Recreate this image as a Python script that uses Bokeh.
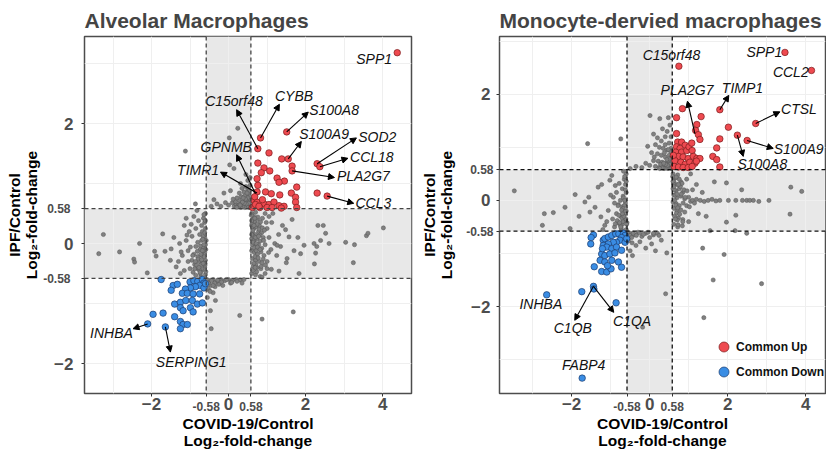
import math
from bokeh.plotting import figure
from bokeh.layouts import row
from bokeh.models import (BoxAnnotation, Span, Arrow, NormalHead, FixedTicker, LinearAxis,
                          Legend, LegendItem, ColumnDataSource, Range1d)
from bokeh.core.properties import value
from bokeh.embed import file_html
from bokeh.resources import INLINE

FONT = "Liberation Sans"

# ---------------- Alveolar macrophages (left) ----------------
am_up_x = [4.38, 0.83, 1.51, 0.76, 1.05, 1.38, 1.55, 0.76, 1.65, 2.30, 2.37, 0.92, 1.65, 0.85, 1.07,
           1.26, 1.45, 1.77, 2.30, 2.56, 0.76, 0.74, 1.31, 0.74, 0.96, 1.11, 1.33, 1.63, 1.74, 0.66,
           0.74, 0.92, 1.05, 1.18, 1.31, 1.44, 1.74, 1.77, 0.62, 0.81, 1.00, 0.68, 0.88, 0.70, 1.37,
           1.13, 0.79]
am_up_y = [3.18, 1.76, 1.86, 1.58, 1.51, 1.41, 1.41, 1.34, 1.29, 1.33, 1.28, 1.26, 1.21, 1.18, 1.21,
           1.09, 1.04, 0.94, 0.84, 0.79, 0.97, 1.08, 1.02, 0.86, 0.86, 0.83, 0.81, 0.84, 0.77, 0.72,
           0.69, 0.66, 0.65, 0.69, 0.63, 0.62, 0.69, 0.60, 0.60, 0.60, 0.60, 0.78, 0.73, 0.65, 0.59,
           0.60, 0.62]

am_down_x = [-1.75, -1.44, -1.33, -1.00, -0.90, -0.80, -0.68, -0.64, -0.75, -0.86, -0.99, -1.12, -1.49,
             -1.20, -1.07, -0.92, -0.75, -1.40, -1.25, -1.11, -0.94, -0.81, -0.68, -1.25, -1.18, -0.99,
             -0.92, -1.70, -1.96, -1.40, -1.25, -1.18, -1.07, -2.10, -1.64, -1.25, -0.64, -0.60]
am_down_y = [-0.60, -0.70, -0.68, -0.64, -0.62, -0.63, -0.60, -0.66, -0.70, -0.72, -0.74, -0.76, -0.78,
             -0.83, -0.83, -0.84, -0.84, -1.01, -0.98, -0.95, -0.95, -1.01, -0.99, -1.07, -1.12, -1.07,
             -1.14, -1.16, -1.18, -1.22, -1.30, -1.35, -1.35, -1.34, -1.39, -1.42, -0.74, -0.67]

am_other_x = [0.05, 0.31, 0.50, 0.24, 0.02, 0.03, -0.12, -0.38, 0.14, 0.15, 0.20, 0.25, 0.30, 0.35, 0.40,
              0.45, 0.50, 0.55, 0.10, 0.18, 0.28, 0.38, 0.48, 0.55, 0.33, 0.43, 0.52, 0.22, 0.12, 0.40,
              0.50, 0.35, 0.45, 0.56, 0.28, 0.00, -0.08, -0.20, -0.30, -0.45, 0.56, 0.45, -1.12, -0.86,
              -0.60, -0.65, -0.62, -0.70, -0.60, -0.68, -0.75, -0.62, -0.70, -0.80, -0.60, -0.66, -0.74,
              -0.85, -0.62, -0.70, -0.80, -0.90, -0.60, -0.67, -0.76, -0.88, -0.95, -1.05, -0.62, -0.70,
              -0.80, -0.92, -1.00, -1.15, -0.60, -0.72, -0.85, -1.25, -0.78, -0.85, -0.95, -0.90, -0.82,
              -1.02, -1.10, -1.05, -1.20, -0.97, -0.64, -0.73, -0.58, -0.59, -0.61, -0.66,
              -3.25, -3.37, -2.83, -2.46, -2.44, -2.31, -2.11, -1.92, -1.88, -1.71, -1.65, -1.49, -1.42,
              -1.51, -1.36, -1.27, -1.23, -1.15, -1.10, -1.30,
              0.60, 0.65, 0.70, 0.62, 0.68, 0.75, 0.60, 0.66, 0.72, 0.80, 0.62, 0.70, 0.78, 0.86, 0.60,
              0.66, 0.74, 0.82, 0.90, 0.62, 0.70, 0.78, 0.86, 0.95, 0.60, 0.67, 0.75, 0.84, 0.92, 0.62,
              0.70, 0.80, 0.90, 1.00, 0.64, 0.74, 0.84, 0.96, 0.60, 0.70, 0.82, 0.95, 1.00, 1.05, 1.10,
              1.12, 1.20, 1.25, 1.30, 1.35, 1.40, 0.88, 0.95, 1.05, 1.15, 1.00, 1.11, 1.31, 0.87, 1.50,
              1.52, 1.48, 1.57, 1.26, 1.70,
              1.96, 1.87, 1.83, 2.22, 2.26, 2.23, 2.39, 2.46, 2.52, 2.61, 3.04, 3.27, 3.58, 3.62, 4.02,
              3.24, 2.32, 2.29, 1.65, 1.80,
              -0.50, -0.40, -0.30, -0.20, -0.10, 0.00, 0.10, 0.20, 0.30, 0.40, -0.45, -0.35, -0.25, -0.50,
              -0.40, -0.55, -0.34, -0.47, -0.45, 0.29, 0.87, 1.68, -0.15, 0.05]
am_other_y = [0.88, 1.00, 1.05, 1.92, 1.76, 1.31, 0.84, 0.73, 1.25, 0.62, 0.65, 0.63, 0.66, 0.62, 0.64,
              0.61, 0.63, 0.65, 0.68, 0.70, 0.72, 0.70, 0.72, 0.74, 0.78, 0.80, 0.82, 0.76, 0.74, 0.86,
              0.90, 0.92, 0.95, 0.97, 0.84, 0.64, 0.68, 0.62, 0.66, 0.62, 1.10, 1.15, 1.54, 0.66,
              0.50, 0.42, 0.35, 0.30, 0.25, 0.20, 0.15, 0.10, 0.05, 0.02, -0.02, -0.08, -0.10,
              -0.05, -0.15, -0.20, -0.22, -0.18, -0.28, -0.32, -0.30, -0.35, -0.28, -0.30, -0.40, -0.45,
              -0.42, -0.48, -0.42, -0.45, -0.52, -0.55, -0.53, -0.50, 0.38, 0.25, 0.12, 0.45, 0.55,
              0.20, 0.05, -0.12, -0.20, 0.32, 0.48, -0.04, 0.05, -0.10, -0.36, 0.12,
              0.15, -0.17, -0.14, -0.26, -0.31, 0.00, -0.49, -0.13, -0.21, 0.16, -0.13, -0.09, 0.10,
              -0.28, -0.39, 0.00, -0.14, 0.30, 0.42, -0.30,
              0.50, 0.45, 0.52, 0.40, 0.35, 0.40, 0.30, 0.25, 0.28, 0.30, 0.18, 0.15, 0.20, 0.18, 0.08,
              0.05, 0.08, 0.04, 0.10, -0.02, -0.05, -0.02, -0.08, -0.02, -0.12, -0.15, -0.18, -0.14, -0.20,
              -0.25, -0.28, -0.30, -0.26, -0.30, -0.38, -0.40, -0.42, -0.36, -0.50, -0.52, -0.55, -0.50,
              0.25, 0.10, -0.10, 0.35, 0.00, -0.20, 0.15, -0.05, 0.30, 0.42, 0.50, 0.45, 0.50, -0.42,
              -0.43, -0.46, -0.56, -0.32, -0.25, 0.23, 0.11, -0.03, -0.12,
              -0.03, -0.17, -0.50, 0.00, -0.16, -0.34, 0.05, 0.30, 0.17, 0.00, 0.02, -0.02, 0.13, 0.17, 0.26,
              -0.32, 0.30, -0.05, 0.40, 0.10,
              -0.62, -0.60, -0.64, -0.60, -0.62, -0.60, -0.62, -0.60, -0.61, -0.60, -0.70, -0.72, -0.68,
              -0.78, -0.82, -0.90, -0.95, -1.12, -1.42, -1.20, -1.26, -1.14, -0.70, -0.66]
# extra unchanged genes in the densest areas
am_dense_x = [0.59, 0.61, 0.63, 0.65, 0.67, 0.69, 0.71, 0.73, 0.76, 0.79, 0.83, 0.88, 0.60, 0.62,
              0.64, 0.66, 0.68, 0.70, 0.72, 0.74, 0.77, 0.81, 0.85, 0.91, 0.60, 0.63, 0.66, 0.69,
              0.72, 0.75, 0.78, 0.82, 0.87, 0.93, 0.98, 1.04,
              -0.59, -0.61, -0.63, -0.65, -0.67, -0.69, -0.71, -0.73, -0.76, -0.79, -0.83, -0.88,
              -0.60, -0.62, -0.64, -0.66, -0.68, -0.70, -0.72, -0.74, -0.77, -0.81, -0.86, -0.93,
              -0.99, -1.08,
              0.57, 0.53, 0.47, 0.42, 0.37, 0.32, 0.26, 0.21, 0.57, 0.52, 0.46, 0.41, 0.36, 0.30,
              0.56, 0.50, 0.44, 0.38, 0.54, 0.48,
              -0.56, -0.52, -0.44, -0.36, -0.28, -0.18, -0.05, 0.08, 0.22, 0.35, -0.54, -0.48, -0.40]
am_dense_y = [0.47, 0.33, 0.22, 0.12, -0.07, -0.22, -0.35, -0.47, 0.44, 0.24, 0.36, 0.26, 0.38, 0.28,
              0.02, -0.33, 0.42, 0.10, -0.12, 0.32, -0.24, 0.14, -0.38, 0.05, 0.15, -0.45, 0.30, -0.40,
              0.00, -0.06, 0.12, -0.10, -0.32, 0.22, 0.35, -0.15,
              -0.47, -0.33, -0.22, -0.12, 0.07, -0.42, -0.35, -0.50, -0.44, -0.26, -0.36, -0.42,
              0.38, 0.18, -0.02, -0.33, -0.12, -0.27, -0.18, -0.48, -0.40, -0.13, -0.30, -0.20,
              -0.06, 0.14,
              0.60, 0.60, 0.61, 0.60, 0.61, 0.60, 0.61, 0.60, 0.68, 0.67, 0.66, 0.67, 0.69, 0.64,
              0.78, 0.76, 0.74, 0.76, 0.88, 0.84,
              -0.60, -0.66, -0.62, -0.66, -0.61, -0.64, -0.60, -0.65, -0.63, -0.66, -0.74, -0.80, -0.70]

am_gene = ["SPP1", "C15orf48", "CYBB", "S100A8", "S100A9", "SOD2", "CCL18", "PLA2G7", "CCL3",
           "GPNMB", "TIMR1", "INHBA", "SERPING1"]
am_gene_x = [3.78, 0.14, 1.70, 2.74, 2.48, 3.86, 3.72, 3.50, 3.76, -0.06, -0.79, -3.04, -0.97]
am_gene_y = [3.07, 2.38, 2.46, 2.23, 1.83, 1.77, 1.44, 1.12, 0.67, 1.61, 1.22, -1.49, -1.97]

am_arrow_x0 = [0.76, 0.83, 1.51, 1.55, 2.30, 2.37, 1.65, 2.56, 0.70, 0.74, -2.10, -1.64]
am_arrow_y0 = [1.58, 1.76, 1.86, 1.41, 1.33, 1.28, 1.21, 0.79, 0.83, 0.84, -1.34, -1.39]
am_arrow_x1 = [0.21, 1.32, 2.07, 1.89, 3.32, 3.10, 2.75, 3.25, 0.21, -0.21, -2.48, -1.51]
am_arrow_y1 = [2.23, 2.32, 2.19, 1.70, 1.76, 1.42, 1.10, 0.67, 1.48, 1.19, -1.42, -1.81]

# ---------------- Monocyte-derived macrophages (right) ----------------
md_up_x = [3.47, 4.15, 0.75, 1.80, 2.72, 2.02, 2.25, 2.50, 0.84, 1.32, 0.69, 1.21, 0.69, 1.18, 1.25,
           1.29, 1.80, 1.72, 1.62, 1.72, 1.80, 0.72, 0.82, 0.91, 0.69, 0.78, 0.67, 0.82, 0.95, 1.01,
           1.09, 0.74, 0.86, 0.99, 1.12, 1.21, 1.29, 0.65, 0.80, 0.91, 1.03, 1.16, 0.63, 0.74, 0.86,
           0.99, 1.09, 0.61, 1.08, 1.20]
md_up_y = [2.79, 2.45, 2.53, 1.71, 1.45, 1.38, 1.23, 1.13, 1.73, 1.58, 1.56, 1.43, 1.26, 1.32, 1.24,
           1.15, 1.16, 0.99, 0.83, 0.77, 0.63, 1.10, 1.10, 1.04, 1.01, 0.98, 0.91, 0.91, 0.94, 1.01,
           0.94, 0.83, 0.82, 0.79, 0.83, 0.79, 0.79, 0.75, 0.72, 0.68, 0.72, 0.70, 0.64, 0.63, 0.62,
           0.62, 0.64, 0.85, 1.08, 0.74]

md_down_x = [-2.64, -1.74, -1.44, -1.43, -0.86, -1.73, -1.44, -1.50, -1.51, -1.19, -1.15, -1.06, -0.97,
             -0.87, -0.79, -0.67, -0.63, -0.72, -0.76, -0.85, -0.93, -1.06, -1.19, -1.10, -0.97, -0.85,
             -0.72, -1.23, -1.15, -1.02, -0.89, -1.27, -1.15, -0.97, -0.80, -1.42, -1.23, -1.10, -0.99,
             -0.72, -1.08, -0.63, -0.59, -1.21]
md_down_y = [-1.78, -1.72, -1.62, -1.67, -1.93, -3.35, -0.65, -0.70, -0.82, -0.75, -0.72, -0.69, -0.66,
             -0.63, -0.63, -0.62, -0.66, -0.70, -0.75, -0.79, -0.79, -0.82, -0.85, -0.88, -0.91, -0.88,
             -0.94, -1.01, -1.04, -1.01, -0.99, -1.13, -1.16, -1.13, -1.16, -1.25, -1.34, -1.35, -1.29,
             -1.26, -1.23, -0.79, -0.72, -0.91]

md_other_x = [0.01, 0.26, 0.48, 0.52, -0.74, -1.59, 0.10, 0.20, 0.30, 0.40, 0.50, 0.15, 0.25, 0.35,
              0.45, 0.55, 0.05, 0.20, 0.30, 0.40, 0.50, 0.56, 0.10, 0.22, 0.32, 0.42, 0.52, 0.00, 0.15,
              0.25, 0.35, 0.45, 0.55, -0.10, -0.20, -0.35, -0.50, 0.38, 0.48, 0.28, 0.12, 0.55, 0.45,
              -0.05, 0.33,
              -3.47, -2.70, -2.47, -2.75, -2.17, -1.91, -1.81, -2.04, -1.66, -1.56, -1.53, -1.40, -1.32,
              -1.23, -1.25, -1.15, -1.06, -1.02, -0.97, -0.93,
              -0.60, -0.65, -0.62, -0.70, -0.60, -0.68, -0.75, -0.62, -0.70, -0.80, -0.60, -0.66, -0.74,
              -0.85, -0.62, -0.70, -0.80, -0.90, -0.60, -0.72, -0.85, -0.90, -0.78, -0.88, -0.95, -1.00,
              -0.64, -0.58, -1.10, -1.20, -0.67,
              0.60, 0.65, 0.72, 0.62, 0.70, 0.80, 0.60, 0.68, 0.76, 0.85, 0.62, 0.70, 0.80, 0.90, 1.00,
              0.60, 0.68, 0.76, 0.86, 0.95, 1.05, 0.62, 0.70, 0.80, 0.90, 0.64, 0.74, 0.85, 0.62, 0.72,
              0.84, 1.00, 1.10, 1.15, 1.20, 1.30, 1.40, 1.50, 1.60, 1.70, 1.80, 1.10, 1.20, 1.25, 1.35,
              1.45, 0.95, 1.05, 1.66, 1.97,
              2.02, 2.21, 2.38, 2.49, 2.57, 2.66, 2.80, 3.06,
              2.36, 3.62, 3.90, 2.21, 3.60, 1.97, 2.49, 2.19, 1.55, 1.36, 1.91, 1.63, 2.87, 1.39,
              0.41, -0.18, 0.44, -0.44, -0.50, -0.40, -0.30, -0.20, -0.10, 0.00, 0.10, 0.20, 0.30, -0.45,
              -0.35, -0.25, -0.55, 0.05, -0.10, 0.15, -0.50]
md_other_y = [1.60, 1.54, 1.56, 1.42, 1.16, 1.07, 1.25, 1.18, 1.12, 1.20, 1.08, 1.05, 1.00, 0.98,
              0.95, 0.98, 0.90, 0.88, 0.85, 0.82, 0.85, 0.80, 0.75, 0.74, 0.72, 0.70, 0.72, 0.66, 0.64,
              0.62, 0.64, 0.62, 0.64, 0.70, 0.62, 0.64, 0.60, 0.90, 0.75, 0.68, 0.82, 1.20, 1.30,
              1.02, 1.35,
              0.18, -0.25, -0.23, -0.47, -0.13, 0.11, -0.30, -0.53, -0.03, 0.06, -0.22, -0.13, 0.25,
              0.30, -0.31, -0.47, -0.19, 0.38, 0.47, 0.06,
              0.50, 0.40, 0.30, 0.22, 0.15, 0.08, 0.00, -0.05, -0.12, -0.08, -0.20, -0.28, -0.30,
              -0.25, -0.38, -0.45, -0.42, -0.50, -0.55, -0.56, 0.15, -0.05, 0.32, 0.28, -0.35, 0.10,
              0.45, -0.42, -0.40, -0.55, 0.55,
              0.50, 0.42, 0.48, 0.35, 0.30, 0.35, 0.22, 0.18, 0.22, 0.15, 0.10, 0.05, 0.08, 0.03, 0.06,
              -0.03, -0.06, -0.10, -0.05, -0.10, -0.02, -0.15, -0.20, -0.18, -0.22, -0.30, -0.33, -0.36,
              -0.45, -0.50, -0.48, -0.40, 0.00, -0.05, 0.02, 0.00, -0.02, 0.00, 0.02, -0.01, 0.00, 0.20,
              0.30, -0.25, 0.15, -0.30, 0.40, 0.50, 0.35, 0.33,
              0.00, 0.00, 0.00, 0.00, 0.00, 0.00, -0.02, 0.00,
              0.20, 0.25, 0.17, -0.28, -0.26, -0.41, -0.62, -0.57, -0.57, -0.90, -1.02, -1.50, -1.57, -2.21,
              -1.76, -2.39, -0.99, -1.04, -0.62, -0.65, -0.60, -0.68, -0.62, -0.70, -0.65, -0.62, -0.75,
              -0.80, -0.85, -0.78, -0.72, -0.82, -0.90, -0.95, -0.95]
md_dense_x = [0.59, 0.61, 0.63, 0.65, 0.67, 0.69, 0.71, 0.73, 0.76, 0.79, 0.83, 0.88, 0.60, 0.62,
              0.64, 0.66, 0.68, 0.70, 0.72, 0.74, 0.77, 0.81, 0.85, 0.91, 0.96, 1.02,
              -0.59, -0.61, -0.63, -0.65, -0.67, -0.69, -0.71, -0.73, -0.76, -0.79, -0.83, -0.88,
              -0.60, -0.62, -0.64, -0.66, -0.68, -0.70, -0.72, -0.74, -0.77, -0.81,
              0.57, 0.53, 0.47, 0.42, 0.37, 0.32, 0.26, 0.57, 0.52, 0.46, 0.41, 0.36, 0.56, 0.50,
              0.44, 0.54, 0.48, 0.40,
              -0.56, -0.50, -0.42, -0.34, -0.26, -0.16, -0.04, 0.10, 0.24, -0.54, -0.46]
md_dense_y = [0.45, 0.31, 0.20, 0.10, -0.09, -0.24, -0.37, -0.46, 0.40, 0.26, 0.32, 0.20, 0.36, 0.26,
              0.00, -0.35, 0.44, 0.12, -0.14, 0.30, -0.26, 0.12, -0.40, 0.06, 0.18, -0.12,
              -0.45, -0.35, -0.20, -0.10, 0.05, -0.40, -0.33, -0.52, -0.46, -0.28, -0.38, -0.44,
              0.36, 0.20, 0.00, -0.30, -0.15, -0.25, -0.18, -0.50, -0.42, -0.10,
              0.60, 0.61, 0.60, 0.61, 0.60, 0.61, 0.60, 0.70, 0.68, 0.66, 0.68, 0.70, 0.80, 0.78,
              0.77, 0.92, 0.96, 1.05,
              -0.60, -0.66, -0.62, -0.66, -0.61, -0.64, -0.60, -0.62, -0.66, -0.76, -0.70]

md_gene = ["C15orf48", "SPP1", "CCL2", "PLA2G7", "TIMP1", "CTSL", "S100A9", "S100A8",
           "INHBA", "C1QB", "C1QA", "FABP4"]
md_gene_x = [0.56, 2.94, 3.62, 0.96, 2.38, 3.83, 3.82, 2.89, -2.79, -1.97, -0.45, -1.69]
md_gene_y = [2.74, 2.80, 2.42, 2.08, 2.12, 1.73, 0.96, 0.69, -1.96, -2.41, -2.28, -3.11]

md_arrow_x0 = [1.16, 1.80, 2.72, 2.50, 2.25, -1.44, -1.44]
md_arrow_y0 = [1.26, 1.71, 1.45, 1.13, 1.23, -1.62, -1.62]
md_arrow_x1 = [0.97, 2.03, 3.34, 3.17, 2.40, -1.92, -0.92]
md_arrow_y1 = [1.87, 1.98, 1.67, 0.98, 0.83, -2.26, -2.11]

legend_labels = ["Common Up", "Common Down"]
x_title = "COVID-19/Control\nLog\u2082-fold-change"
y_title = "IPF/Control\nLog\u2082-fold-change"
threshold = 0.58

RED = "#ee4a50"
BLUE = "#3a8de4"
GRAY = "#808080"
TICK_GRAY = "#4d4d4d"


def style_axis(ax, size, standoff, ticks_on):
    ax.axis_line_color = None
    ax.major_tick_line_color = "#333333" if ticks_on else None
    ax.major_tick_out = 3 if ticks_on else 0
    ax.major_tick_in = 0
    ax.minor_tick_line_color = None
    ax.major_label_text_font = FONT
    ax.major_label_text_font_size = size
    ax.major_label_text_font_style = "bold"
    ax.major_label_text_color = TICK_GRAY
    ax.major_label_standoff = standoff


def panel(title, xr, yr, frame_w, border_l, border_r, up, down, other, genes, arrows,
          dash_color, xstand, ystand, xgrid, ygrid, xticks, yticks, legend=False):
    p = figure(x_range=Range1d(*xr), y_range=Range1d(*yr), frame_width=frame_w, frame_height=357,
               min_border_left=border_l, min_border_right=border_r, min_border_top=36,
               min_border_bottom=56, output_backend="svg", toolbar_location=None,
               background_fill_color="white", border_fill_color="white")
    p.title.text = title
    p.title.text_font = FONT
    p.title.text_font_size = "21px"
    p.title.text_font_style = "bold"
    p.title.align = "left"
    p.title.standoff = 9
    p.title.offset = 0
    p.outline_line_color = "#4d4d4d"
    p.outline_line_width = 1.5

    # grid
    p.xgrid.ticker = FixedTicker(ticks=xgrid)
    p.ygrid.ticker = FixedTicker(ticks=ygrid)
    for g in (p.xgrid, p.ygrid):
        g.grid_line_color = "#efefef"
        g.grid_line_width = 1

    # inner axes: tick marks everywhere, small +-0.58 labels
    all_x = sorted(xticks + [-threshold, threshold])
    all_y = sorted(yticks + [-threshold, threshold])
    xs = LinearAxis(ticker=FixedTicker(ticks=all_x))
    ys = LinearAxis(ticker=FixedTicker(ticks=all_y))
    style_axis(xs, "12px", xstand[0], True)
    style_axis(ys, "12px", ystand[0], True)
    small = {t: "" for t in xticks + yticks}
    small.update({-threshold: "-0.58", threshold: "0.58"})
    xs.major_label_overrides = dict(small)
    ys.major_label_overrides = dict(small)

    # outer axes: big labels + axis titles, pulled back onto the same line
    xa = p.xaxis[0]
    ya = p.yaxis[0]
    xa.ticker = FixedTicker(ticks=xticks)
    ya.ticker = FixedTicker(ticks=yticks)
    style_axis(xa, "17px", xstand[1], False)
    style_axis(ya, "17px", ystand[1], False)
    for ax in (xa, ya):
        ax.major_label_overrides = {-2: "\u22122"}
        ax.axis_label_text_font = FONT
        ax.axis_label_text_font_size = "15.5px"
        ax.axis_label_text_font_style = "bold"
        ax.axis_label_text_color = "black"
        ax.axis_label_text_line_height = 1.0
    xa.axis_label = x_title
    ya.axis_label = y_title
    xa.axis_label_standoff = xstand[2]
    ya.axis_label_standoff = ystand[2]
    p.below = [xs, xa]
    p.left = [ys, ya]

    # shaded bands (centre square left white)
    band = dict(fill_color="#e8e8e8", fill_alpha=1.0, line_color=None, level="image")
    p.add_layout(BoxAnnotation(left=-threshold, right=threshold, bottom=threshold, **band))
    p.add_layout(BoxAnnotation(left=-threshold, right=threshold, top=-threshold, **band))
    p.add_layout(BoxAnnotation(right=-threshold, bottom=-threshold, top=threshold, **band))
    p.add_layout(BoxAnnotation(left=threshold, bottom=-threshold, top=threshold, **band))

    p.scatter(other[0], other[1], size=4.2, fill_color=GRAY, line_color="#555555", line_width=0.5)
    r_up = p.scatter(up[0], up[1], size=6.5, fill_color=RED, line_color="#7a1c1c", line_width=0.7)
    r_down = p.scatter(down[0], down[1], size=6.5, fill_color=BLUE, line_color="#1c3c6e",
                       line_width=0.7)

    for loc in (-threshold, threshold):
        p.add_layout(Span(location=loc, dimension="width", line_color=dash_color,
                          line_width=1.3, line_dash="4 3"))
        p.add_layout(Span(location=loc, dimension="height", line_color=dash_color,
                          line_width=1.3, line_dash="4 3"))

    # arrows
    asrc = ColumnDataSource(dict(x0=arrows[0], y0=arrows[1], x1=arrows[2], y1=arrows[3]))
    p.add_layout(Arrow(source=asrc, x_start="x0", y_start="y0", x_end="x1", y_end="y1",
                       line_color="black", line_width=1.1,
                       end=NormalHead(size=6, fill_color="black", line_color="black",
                                      line_width=1)))

    # gene labels
    gsrc = ColumnDataSource(dict(x=genes[1], y=genes[2], t=genes[0]))
    p.text(x="x", y="y", text="t", source=gsrc, text_font=value(FONT), text_font_size="14px",
           text_font_style="italic", text_align="center", text_baseline="middle",
           text_color="#111111")

    if legend:
        lg = Legend(items=[LegendItem(label=legend_labels[0], renderers=[r_up]),
                           LegendItem(label=legend_labels[1], renderers=[r_down])],
                    location=(212, 9), glyph_width=25, glyph_height=25, label_height=25,
                    spacing=0, padding=0, margin=0, label_standoff=0,
                    border_line_color=None, background_fill_alpha=0,
                    label_text_font=FONT, label_text_font_size="12px",
                    label_text_font_style="bold", label_text_color="#111111")
        p.add_layout(lg)
    return p


# standoffs: (small labels, big labels relative to the outer panel, axis title)
p1 = panel("Alveolar Macrophages", (-3.74, 4.75), (-2.5, 3.45), 327, 84, 7,
           (am_up_x, am_up_y), (am_down_x, am_down_y),
           (am_other_x + am_dense_x, am_other_y + am_dense_y),
           (am_gene, am_gene_x, am_gene_y), (am_arrow_x0, am_arrow_y0, am_arrow_x1, am_arrow_y1),
           "#444444", (5, -16, 2), (11, -33, 11),
           [-3, -2, -1, 0, 1, 2, 3, 4], [-2, -1, 0, 1, 2, 3], [-2, 0, 2, 4], [-2, 0, 2])
p2 = panel("Monocyte-dervied macrophages", (-3.85, 4.51), (-3.64, 3.09), 326, 80, 2,
           (md_up_x, md_up_y), (md_down_x, md_down_y),
           (md_other_x + md_dense_x, md_other_y + md_dense_y),
           (md_gene, md_gene_x, md_gene_y), (md_arrow_x0, md_arrow_y0, md_arrow_x1, md_arrow_y1),
           "#111111", (5, -16, 2), (3, -27, 13),
           [-3, -2, -1, 0, 1, 2, 3, 4], [-3, -2, -1, 0, 1, 2, 3], [-2, 0, 2, 4], [-2, 0, 2],
           legend=True)

layout = row(p1, p2)
open("out.html", "w").write(file_html(layout, INLINE))
